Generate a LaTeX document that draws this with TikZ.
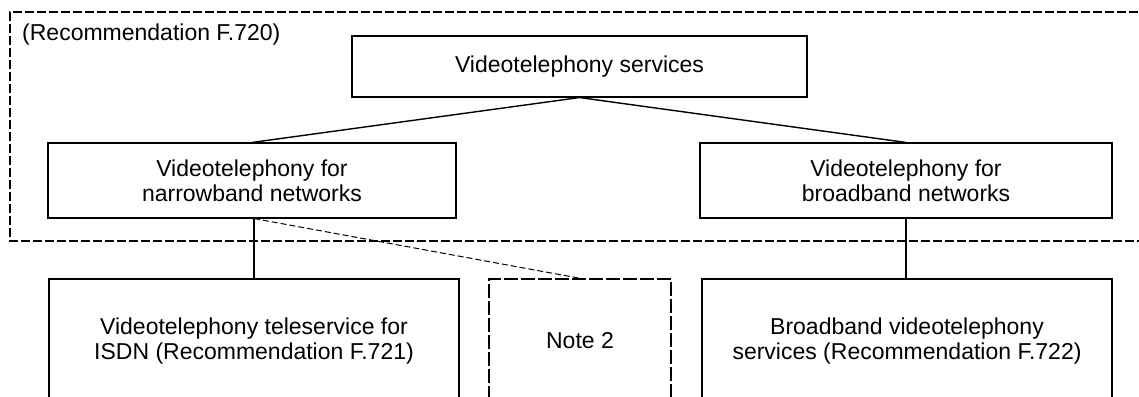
\documentclass[tikz,border=0pt]{standalone}
\usepackage{fontspec}
\setmainfont{Liberation Sans}
\begin{document}
\begin{tikzpicture}[x=1pt,y=-1pt]
        \tikzstyle{every node}+=[inner sep=0pt, align=center, font=\fontsize{23}{25}\selectfont]
        \tikzstyle{service}=[draw=black, line width=1.1pt, rectangle]
        \tikzstyle{link}=[black, line width=1.4pt]
        \useasboundingbox (0,0) rectangle (1139,396);
        \clip (0,0) rectangle (1139,396);
        % F.720 frame, open to the right
        \draw [black, line width=1.4pt, dash pattern=on 9pt off 3pt] (1150,12) -- (10,12) -- (10,241) -- (1150,241);
        \node [anchor=west] (recf720) at (22,35) {(Recommendation F.720)};
        \node [service, minimum width=455, minimum height=61] (vtserv) at (579.5,66.5) {Videotelephony services};
        \node [service, minimum width=408, minimum height=75] (vtnarrow) at (252,180.5) {Videotelephony for\\narrowband networks};
        \node [service, minimum width=412, minimum height=75] (vtbroad) at (906,180.5) {Videotelephony for\\broadband networks};
        % lower boxes run past the bottom edge
        \node [service, minimum width=410, minimum height=124] (vtisdn) at (254,341) {Videotelephony teleservice for\\ISDN (Recommendation F.721)};
        \node [service, line width=1.4pt, dash pattern=on 14pt off 3pt, minimum width=182, minimum height=124] (note2) at (580,341) {Note 2};
        \node [service, minimum width=410, minimum height=124] (bbvt) at (907,341) {Broadband videotelephony\\services (Recommendation F.722)};
        \coordinate (narrowfoot) at (vtisdn.north |- vtnarrow.south);
        \coordinate (broadfoot) at (vtbroad.south);
        \draw [link] (vtserv.south) -- (vtnarrow.north);
        \draw [link] (vtserv.south) -- (vtbroad.north);
        \draw [link] (narrowfoot) -- (vtisdn.north);
        \draw [black, line width=1pt, dash pattern=on 6pt off 3pt] (narrowfoot) -- (note2.north);
        \draw [link] (broadfoot) -- (broadfoot |- bbvt.north);
    \end{tikzpicture}
\end{document}
